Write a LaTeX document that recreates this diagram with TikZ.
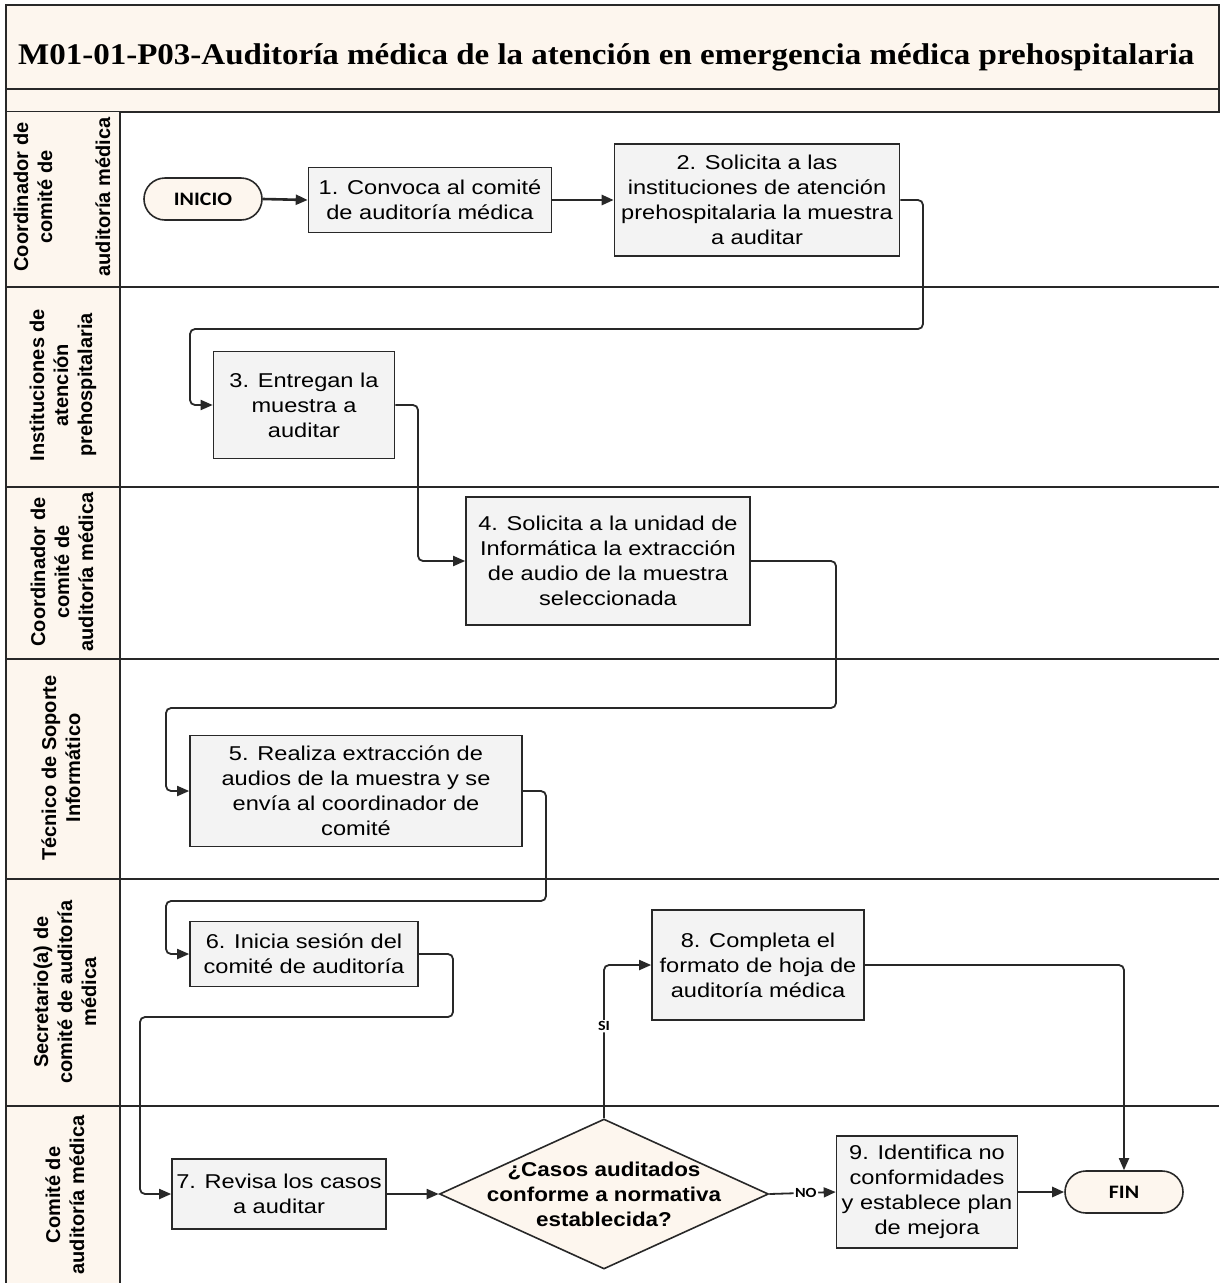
\documentclass[tikz,border=0pt]{standalone}
\usepackage{fontspec}
\setmainfont{Liberation Sans}
\newfontfamily\boxfont[FakeStretch=1.18]{Liberation Sans}
\newfontfamily\decfont[FakeStretch=1.12]{Liberation Sans}
\newfontfamily\termfont[FakeStretch=1.15]{Carlito}
\newfontfamily\titlefont[FakeStretch=1.1]{Liberation Serif}
\usetikzlibrary{arrows.meta,shapes.geometric,shapes.misc}

\definecolor{cream}{HTML}{FDF6EE}
\definecolor{boxgray}{HTML}{F3F3F3}
\definecolor{ink}{HTML}{282828}

\begin{document}
\begin{tikzpicture}[x=1pt,y=-1pt,
  frame/.style={draw=ink,line width=2pt},
  stepbox/.style={draw=ink,fill=boxgray,line width=1.6pt,align=center,inner sep=2pt,
    font=\boxfont\fontsize{20}{25}\selectfont},
  terminal/.style={rounded rectangle,draw=ink,fill=cream,line width=1.6pt,
    minimum width=118pt,minimum height=42pt,inner sep=0pt,
    font=\termfont\bfseries\fontsize{19}{22}\selectfont},
  decision/.style={diamond,draw=ink,fill=cream,line width=1.6pt,inner sep=0pt,
    minimum width=329pt,minimum height=150pt},
  dectext/.style={align=center,inner sep=0pt,font=\decfont\bfseries\fontsize{20}{25}\selectfont},
  lanelabel/.style={rotate=90,align=center,inner sep=0pt,
    font=\bfseries\fontsize{20}{24}\selectfont},
  flow/.style={draw=ink,line width=1.8pt,rounded corners=5pt,
    -{Triangle[length=12pt,width=10pt]}},
  heavyflow/.style={flow,line width=2.6pt},
  branch/.style={font=\termfont\bfseries\fontsize{14}{15}\selectfont,fill=white,inner sep=1.5pt}
]
% page
\fill[white] (0,0) rectangle (1219,1283);
\useasboundingbox (0,0) rectangle (1219,1283);

% title band and sub band
\filldraw[frame,fill=cream] (6,5) rectangle (1219,89);
\filldraw[frame,fill=cream] (6,89) rectangle (1219,112);
\node[anchor=west,inner sep=0pt,font=\titlefont\bfseries\fontsize{30}{33}\selectfont]
  (title) at (18,57) {M01-01-P03-Auditoría médica de la atención en emergencia médica prehospitalaria};

% lane header column and lane separators
\fill[cream] (6,112) rectangle (120,1283);
\foreach \yy in {287,487,659,879,1106} {
  \draw[frame] (6,\yy) -- (1219,\yy);
}
\draw[frame] (120,112) -- (120,1283);
\draw[frame] (6,5) -- (6,1283);

% lane labels
\node[lanelabel] (lane1) at (62,197) {Coordinador de\\comité de\\[34pt]auditoría médica};
\node[lanelabel] (lane2) at (63,385) {Instituciones de\\atención\\prehospitalaria};
\node[lanelabel] (lane3) at (62,572) {Coordinador de\\comité de\\auditoría médica};
\node[lanelabel] (lane4) at (61,768) {Técnico de Soporte\\Informático};
\node[lanelabel] (lane5) at (65,992) {Secretario(a) de\\comité de auditoría\\médica};
\node[lanelabel] (lane6) at (65,1195) {Comité de\\auditoría médica};

% process steps
\node[terminal] (ini) at (203,199) {INICIO};
\node[stepbox,minimum width=243pt,minimum height=65pt] (b1) at (430,200)
  {1. Convoca al comité\\de auditoría médica};
\node[stepbox,minimum width=285pt,minimum height=112pt] (b2) at (757,200)
  {2. Solicita a las\\instituciones de atención\\prehospitalaria la muestra\\a auditar};
\node[stepbox,minimum width=181pt,minimum height=107pt] (b3) at (304,405)
  {3. Entregan la\\muestra a\\auditar};
\node[stepbox,minimum width=284pt,minimum height=128pt] (b4) at (608,561)
  {4. Solicita a la unidad de\\Informática la extracción\\de audio de la muestra\\seleccionada};
\node[stepbox,minimum width=332pt,minimum height=111pt] (b5) at (356,791)
  {5. Realiza extracción de\\audios de la muestra y se\\envía al coordinador de\\comité};
\node[stepbox,minimum width=228pt,minimum height=65pt] (b6) at (304,954)
  {6. Inicia sesión del\\comité de auditoría};
\node[stepbox,minimum width=212pt,minimum height=110pt] (b8) at (758,965)
  {8. Completa el\\formato de hoja de\\auditoría médica};
\node[stepbox,minimum width=214pt,minimum height=70pt] (b7) at (279,1194)
  {7. Revisa los casos\\a auditar};
\node[decision] (dia) at (604,1194) {};
\node[dectext] (diaq) at (dia.center) {¿Casos auditados\\conforme a normativa\\establecida?};
\node[stepbox,minimum width=181pt,minimum height=112pt] (b9) at (927,1192)
  {9. Identifica no\\conformidades\\y establece plan\\de mejora};
\node[terminal] (fin) at (1124,1192) {FIN};

% connectors
\draw[heavyflow] (ini.east) -- (b1.west);
\draw[heavyflow] (b1.east) -- (b2.west);
\draw[flow] (b2.east) -| (923,329) -| (190,405) -- (b3.west);
\draw[flow] (b3.east) -| (418,561) -- (b4.west);
\draw[flow] (b4.east) -| (836,708) -| (166,791) -- (b5.west);
\draw[flow] (b5.east) -| (546,901) -| (166,954) -- (b6.west);
\draw[flow] (b6.east) -| (453,1017) -| (140,1194) -- (b7.west);
\draw[flow] (b7.east) -- (dia.west);
\draw[flow] (dia.north) |- node[branch,pos=0.3] {SI} (b8.west);
\draw[flow] (b8.east) -| (fin.north);
\draw[flow] (dia.east) -- node[branch,pos=0.55] {NO} (b9.west);
\draw[heavyflow] (b9.east) -- (fin.west);
\end{tikzpicture}
\end{document}
